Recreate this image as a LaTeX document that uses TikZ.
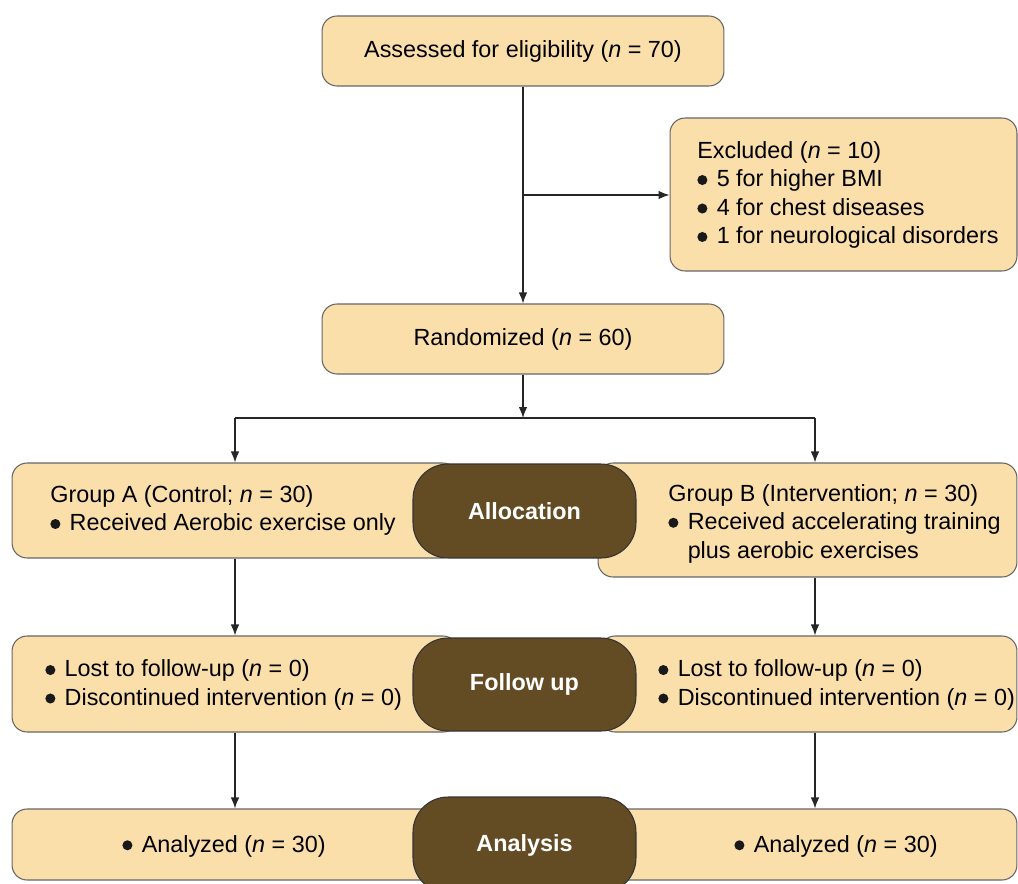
\documentclass[tikz,border=0pt]{standalone}
\usepackage{fontspec}
\setmainfont{Liberation Sans}
\usetikzlibrary{positioning, arrows.meta}
\definecolor{boxfill}{RGB}{250,223,170}
\definecolor{stagefill}{RGB}{99,75,36}
\newcommand{\dotitem}{\tikz[baseline=0pt]\fill[black!90] (0,0.29em) circle (0.215em);\hspace{0.4em}}

\begin{document}
\begin{tikzpicture}[x=0.02cm, y=-0.02cm,
	font=\fontsize{13.3}{16.2}\selectfont,
	box/.style={draw=black!60, fill=boxfill, rounded corners=0.3cm, line width=0.6pt, inner sep=0pt},
	stage/.style={draw=black!80, fill=stagefill, rounded corners=0.7cm, line width=0.6pt, text=white, font=\fontsize{13.3}{16.2}\selectfont\bfseries, minimum width=4.46cm, inner sep=0pt},
	txt/.style={anchor=west, align=left, inner sep=0pt},
	link/.style={line width=0.7pt, draw=black!85},
	arr/.style={link, -{Latex[length=2.2mm,width=1.7mm]}}]
\useasboundingbox (0,0) rectangle (1018,883);

	% Enrolment
\node [box, minimum width=8.04cm, minimum height=1.4cm] (assess) at (523,51) {Assessed for eligibility (\textit{n} = 70)};
\node [box, minimum width=6.94cm, minimum height=3.06cm] (excl) at (843.5,194.5) {};
\node [txt] (excltxt) at (697,195) {Excluded (\textit{n} = 10)\\ \dotitem 5 for higher BMI\\ \dotitem 4 for chest diseases\\ \dotitem 1 for neurological disorders};
\node [box, minimum width=8.04cm, minimum height=1.4cm] (rand) at (523,339) {Randomized (\textit{n} = 60)};
\coordinate (exclsplit) at (523,195);
\coordinate (fork) at (523,418);
\coordinate (forkA) at (235,418);
\coordinate (forkB) at (815,418);
\draw [arr] (assess) -- (rand);
\draw [arr] (exclsplit) -- (excl.west |- exclsplit);
\draw [arr] (rand) -- (fork);
\draw [link] (forkA) -- (forkB);

	% Allocation
\node [box, minimum width=8.92cm, minimum height=1.9cm] (grpA) at (235,510.5) {};
\node [box, minimum width=8.38cm, minimum height=2.28cm] (grpB) at (807.5,520) {};
\node [txt] (grpAtxt) at (50,510.5) {Group A (Control; \textit{n} = 30)\\ \dotitem Received Aerobic exercise only};
\node [txt] (grpBtxt) at (668,523.5) {Group B (Intervention; \textit{n} = 30)\\ \dotitem Received accelerating training\\ \hphantom{\dotitem}plus aerobic exercises};
\node [stage, minimum height=1.88cm] (alloc) at (524.5,511) {Allocation};
\draw [arr] (forkA) -- (grpA);
\draw [arr] (forkB) -- (grpB.north -| forkB);

	% Follow up
\node [box, minimum width=8.92cm, minimum height=1.92cm] (fuA) at (235,684) {};
\node [box, minimum width=8.34cm, minimum height=1.92cm] (fuB) at (808.5,684) {};
\node [txt] (fuAtxt) at (45,685) {\dotitem Lost to follow-up (\textit{n} = 0)\\ \dotitem Discontinued intervention (\textit{n} = 0)};
\node [txt] (fuBtxt) at (658,685) {\dotitem Lost to follow-up (\textit{n} = 0)\\ \dotitem Discontinued intervention (\textit{n} = 0)};
\node [stage, minimum height=1.86cm] (follow) at (524.5,684.5) {Follow up};
\draw [arr] (grpA) -- (fuA);
\draw [arr] (grpB.south -| forkB) -- (fuB.north -| forkB);

	% Analysis
\node [box, minimum width=8.92cm, minimum height=1.42cm] (anA) at (235,844.5) {};
\node [box, minimum width=8.34cm, minimum height=1.42cm] (anB) at (808.5,844.5) {};
\node [inner sep=0pt] (anAtxt) at (224,846) {\dotitem Analyzed (\textit{n} = 30)};
\node [inner sep=0pt] (anBtxt) at (836,846) {\dotitem Analyzed (\textit{n} = 30)};
\node [stage, minimum height=1.92cm] (analysis) at (524.5,845) {Analysis};
\draw [arr] (fuA) -- (anA);
\draw [arr] (fuB.south -| forkB) -- (anB.north -| forkB);
\end{tikzpicture}
\end{document}
